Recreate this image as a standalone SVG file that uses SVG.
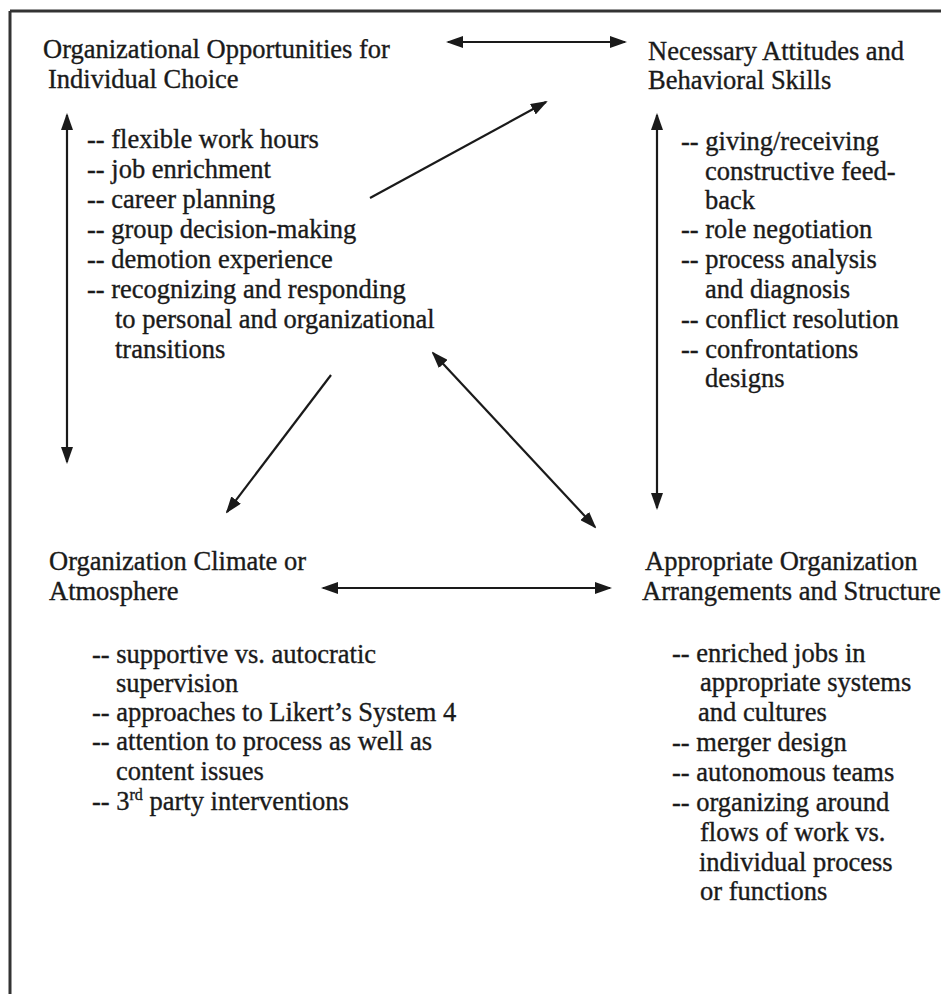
<svg xmlns="http://www.w3.org/2000/svg" width="941" height="994" viewBox="0 0 941 994">
  <defs>
    <marker id="ah" viewBox="0 0 17 12" refX="15" refY="6" markerWidth="17" markerHeight="12" markerUnits="userSpaceOnUse" orient="auto-start-reverse">
      <path d="M0,0 L17,6 L0,12 z" fill="#1a1a1a"/>
    </marker>
  </defs>
  <style>
    text { font-family: "Liberation Serif", "Times New Roman", serif; font-size: 26.5px; fill: #1a1a1a; stroke: #1a1a1a; stroke-width: 0.35px; }
    .conn line { stroke: #1a1a1a; stroke-width: 2.2; fill: none; }
    .frame { stroke: #333; stroke-width: 3; fill: none; }
  </style>
  <rect x="0" y="0" width="941" height="994" fill="#ffffff"/>
  <g id="frame">
    <line class="frame" x1="10" y1="11" x2="941" y2="11"/>
    <line class="frame" x1="10" y1="11" x2="10" y2="994"/>
  </g>

  <g id="n-opportunities">
    <text x="43" y="58">Organizational Opportunities for</text>
    <text x="48" y="88">Individual Choice</text>
    <text x="87" y="148">-- flexible work hours</text>
    <text x="87" y="178">-- job enrichment</text>
    <text x="87" y="208">-- career planning</text>
    <text x="87" y="238">-- group decision-making</text>
    <text x="87" y="268">-- demotion experience</text>
    <text x="87" y="298">-- recognizing and responding</text>
    <text x="115" y="328">to personal and organizational</text>
    <text x="115" y="358">transitions</text>
  </g>

  <g id="n-attitudes">
    <text x="648" y="60">Necessary Attitudes and</text>
    <text x="648" y="89">Behavioral Skills</text>
    <text x="681" y="150">-- giving/receiving</text>
    <text x="705" y="180">constructive feed-</text>
    <text x="705" y="209">back</text>
    <text x="681" y="238">-- role negotiation</text>
    <text x="681" y="268">-- process analysis</text>
    <text x="705" y="298">and diagnosis</text>
    <text x="681" y="328">-- conflict resolution</text>
    <text x="681" y="358">-- confrontations</text>
    <text x="705" y="387">designs</text>
  </g>

  <g id="n-climate">
    <text x="49" y="570">Organization Climate or</text>
    <text x="49" y="600">Atmosphere</text>
    <text x="92" y="663">-- supportive vs. autocratic</text>
    <text x="116" y="692">supervision</text>
    <text x="92" y="721">-- approaches to Likert’s System 4</text>
    <text x="92" y="750">-- attention to process as well as</text>
    <text x="116" y="780">content issues</text>
    <text x="92" y="810">-- 3<tspan font-size="16" dy="-10">rd</tspan><tspan dy="10"> party interventions</tspan></text>
  </g>

  <g id="n-arrangements">
    <text x="645" y="570">Appropriate Organization</text>
    <text x="642" y="600">Arrangements and Structure</text>
    <text x="672" y="662">--  enriched jobs in</text>
    <text x="700" y="691">appropriate systems</text>
    <text x="698" y="721">and cultures</text>
    <text x="672" y="751">-- merger design</text>
    <text x="672" y="781">-- autonomous teams</text>
    <text x="672" y="811">-- organizing around</text>
    <text x="700" y="841">flows of work vs.</text>
    <text x="699" y="871">individual process</text>
    <text x="700" y="900">or functions</text>
  </g>

  <g id="connectors" class="conn">
    <line x1="448" y1="42" x2="625" y2="42" marker-start="url(#ah)" marker-end="url(#ah)"/>
    <line x1="67" y1="115" x2="67" y2="462" marker-start="url(#ah)" marker-end="url(#ah)"/>
    <line x1="370" y1="198" x2="546" y2="102" marker-end="url(#ah)"/>
    <line x1="657" y1="115" x2="657" y2="508" marker-start="url(#ah)" marker-end="url(#ah)"/>
    <line x1="433" y1="353" x2="595" y2="527" marker-start="url(#ah)" marker-end="url(#ah)"/>
    <line x1="331" y1="375" x2="227" y2="512" marker-end="url(#ah)"/>
    <line x1="323" y1="588" x2="610" y2="588" marker-start="url(#ah)" marker-end="url(#ah)"/>
  </g>
</svg>
